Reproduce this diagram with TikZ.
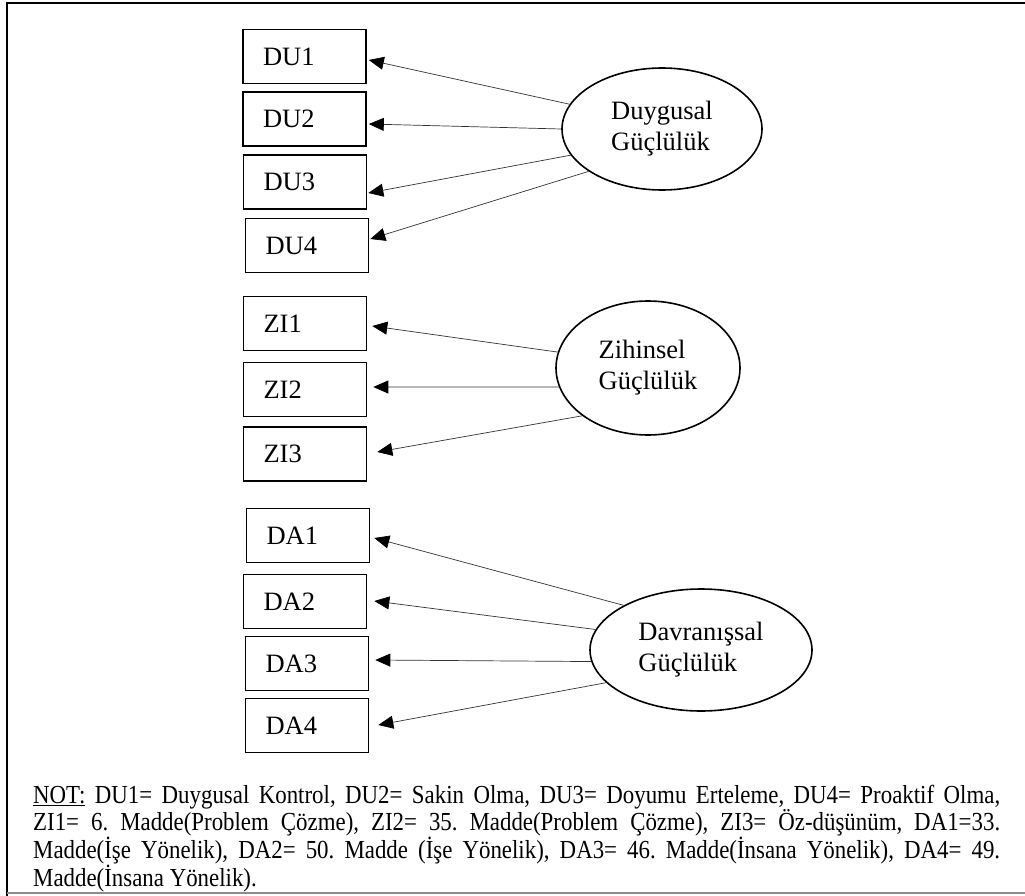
\documentclass[tikz,border=0pt]{standalone}
\usepackage{fontspec}
\setmainfont{Liberation Serif}
\newfontfamily\notefont{Liberation Serif}[FakeStretch=0.88]
\usetikzlibrary{shapes.geometric,arrows.meta}

\begin{document}
\begin{tikzpicture}[x=1pt,y=-1pt,
  item/.style={draw=black, line width=1.6pt, minimum width=123pt, minimum height=54pt,
    text width=83pt, inner xsep=20pt, inner ysep=0pt, align=left,
    font=\fontsize{26.5}{30}\selectfont},
  factor/.style={draw=black, ellipse, line width=1.6pt, inner sep=0pt, align=left,
    font=\fontsize{26.5}{31}\selectfont},
  load/.style={draw=black!80, line width=0.7pt,
    -{Triangle[length=15pt,width=13pt,fill=black,color=black]}},
  frameline/.style={draw=black, line width=2pt},
]
\useasboundingbox (0,0) rectangle (1025,896);

% page frame
\draw[frameline] (7,896) -- (7,3) -- (1025,3);
\draw[black!45, line width=1.5pt] (7,893) -- (1025,893);

% observed items
\node[item] (du1) at (304.5,56.5) {DU1};
\node[item] (du2) at (304.5,119) {DU2};
\node[item] (du3) at (305,182) {DU3};
\node[item] (du4) at (307,245.5) {DU4};

\node[item] (zi1) at (305,323.5) {ZI1};
\node[item] (zi2) at (305,389.5) {ZI2};
\node[item] (zi3) at (305,454) {ZI3};

\node[item] (da1) at (308,535.5) {DA1};
\node[item] (da2) at (305,601.5) {DA2};
\node[item] (da3) at (307,663.5) {DA3};
\node[item] (da4) at (307,725.5) {DA4};

% latent factors
\node[factor, minimum width=200pt, minimum height=122pt] (duy) at (662,129) {Duygusal\\Güçlülük};
\node[factor, minimum width=184pt, minimum height=134pt] (zih) at (648,368) {Zihinsel\\Güçlülük};
\node[factor, minimum width=222pt, minimum height=122pt] (dav) at (701,650) {Davranışsal\\Güçlülük};

% loadings
\draw[load] (duy.165) -- ([shift={(2,3.5)}]du1.east);
\draw[load] (duy.180) -- ([shift={(2,5)}]du2.east);
\draw[load] (duy.196) -- ([shift={(1,11)}]du3.east);
\draw[load] (duy.210) -- ([shift={(1,-6.5)}]du4.east);

\draw[load] (zih.170) -- ([shift={(5,2.5)}]zi1.east);
\draw[load] (zih.192) -- ([shift={(6,-2.5)}]zi2.east);
\draw[load] (zih.216) -- ([shift={(10,-2)}]zi3.east);

\draw[load] (dav.150) -- ([shift={(4,2.5)}]da1.east);
\draw[load] (dav.169) -- ([shift={(7,-0.5)}]da2.east);
\draw[load] (dav.186) -- ([shift={(6,-3.5)}]da3.east);
\draw[load] (dav.199) -- ([shift={(9,-0.5)}]da4.east);

% note
\node[anchor=base west, inner sep=0pt] (note) at (33,803) {\parbox[t]{967pt}{%
  \notefont\fontsize{26}{26}\selectfont\parindent=0pt\frenchspacing
  \underline{NOT:} DU1= Duygusal Kontrol, DU2= Sakin Olma, DU3= Doyumu Erteleme, DU4= Proaktif Olma,\linebreak
  ZI1= 6. Madde(Problem Çözme), ZI2= 35. Madde(Problem Çözme), ZI3= Öz-düşünüm, DA1=33.\linebreak
  Madde(İşe Yönelik), DA2= 50. Madde (İşe Yönelik), DA3= 46. Madde(İnsana Yönelik), DA4= 49.\linebreak
  Madde(İnsana Yönelik).}};
\end{tikzpicture}
\end{document}
